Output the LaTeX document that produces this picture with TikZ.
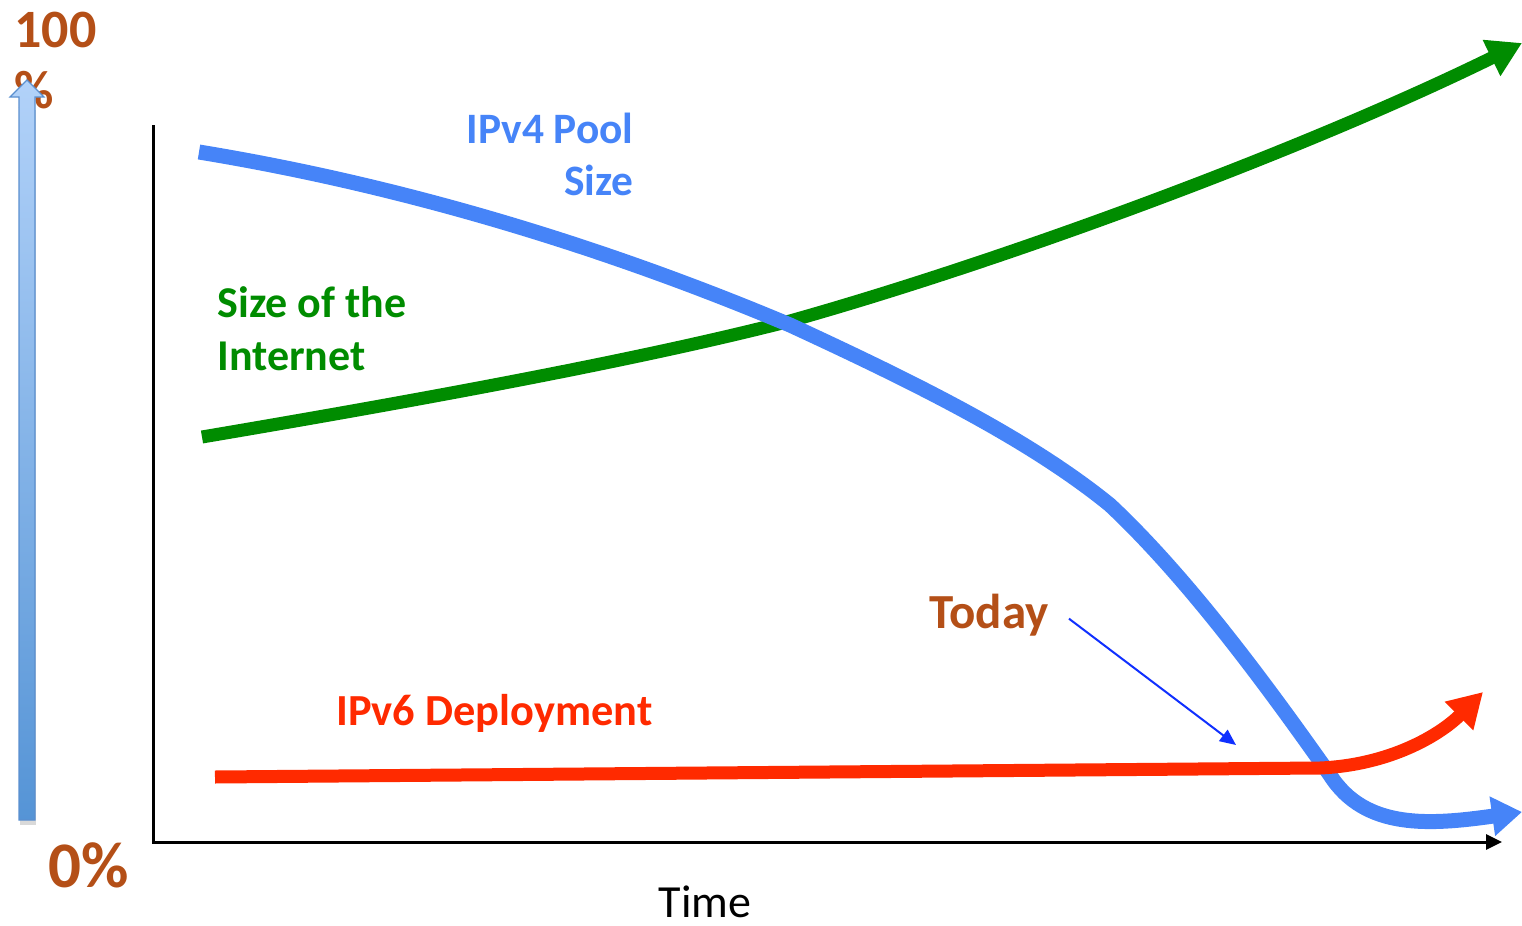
\documentclass[tikz,border=0pt]{standalone}
\usepackage{fontspec}
\setmainfont{Carlito}
\usetikzlibrary{arrows.meta}
\definecolor{poolblue}{HTML}{4684F8}
\definecolor{netgreen}{HTML}{008C00}
\definecolor{vsixred}{HTML}{FF2A00}
\definecolor{rust}{HTML}{B44F17}
\definecolor{pointer}{HTML}{1030FF}
\definecolor{scaletop}{HTML}{B2D2F9}
\definecolor{scalebot}{HTML}{5594D6}
\definecolor{scaleedge}{HTML}{5A8FCF}
\tikzset{
  lbl/.style={inner sep=0pt, font=\bfseries\fontsize{22}{26}\selectfont},
  trend/.style={line cap=butt, line join=round},
}
\begin{document}
\begin{tikzpicture}[x=0.5pt,y=-0.5pt]
\useasboundingbox (0,0) rectangle (1522,926);

% percentage scale labels
\node[lbl, font=\bfseries\fontsize{27}{32}\selectfont, text=rust, anchor=base west] (hundred) at (14,47) {100};
\node[lbl, font=\bfseries\fontsize{27}{32}\selectfont, text=rust, anchor=base west] (pct) at (14,108) {\%};
\node[lbl, font=\bfseries\fontsize{32.5}{38}\selectfont, text=rust, anchor=base west] (zero) at (48,887) {0\%};

% shaded scale arrow on the left
\fill[black!15] (20,110) rectangle (36,825);
\shade[top color=scaletop, bottom color=scalebot, draw=scaleedge, line width=0.6pt]
  (19,820) -- (19,97) -- (10,97) -- (27,80) -- (44,97) -- (35,97) -- (35,820) -- cycle;

% axes
\draw[line width=1.5pt] (153,125) -- (153,842);
\draw[line width=1.5pt, -{Triangle[length=8pt,width=7.5pt]}] (152.3,842) -- (1502,842);
\node[inner sep=0pt, font=\fontsize{23}{27}\selectfont, anchor=base] (time) at (705,917) {Time};

% size of the internet
\draw[trend, netgreen, line width=6.5pt, -{Triangle[length=17pt,width=19pt]}]
  (202,437) .. controls (450,395) and (650,357) .. (790,321)
            .. controls (1000,262) and (1300,152) .. (1522,43);

% IPv4 pool size
\draw[trend, poolblue, line width=7.5pt, -{Triangle[length=15pt,width=19pt]}]
  (199,152) .. controls (400,185) and (600,245) .. (790,325)
            .. controls (920,385) and (1030,440) .. (1110,505)
            .. controls (1190,580) and (1270,690) .. (1330,775)
            .. controls (1365,830) and (1430,825) .. (1522,812);

% IPv6 deployment
\draw[trend, vsixred, line width=6.5pt, -{Triangle[length=17pt,width=19pt]}]
  (215,777) -- (1320,768) .. controls (1390,765) and (1440,735) .. (1483,692);

% labels
\node[lbl, font=\bfseries\fontsize{21.7}{26}\selectfont, text=poolblue, anchor=base east] (pool1) at (634,143) {IPv4 Pool};
\node[lbl, font=\bfseries\fontsize{21.7}{26}\selectfont, text=poolblue, anchor=base east] (pool2) at (634,195) {Size};
\node[lbl, text=netgreen, anchor=base west] (net1) at (217,317) {Size of the};
\node[lbl, text=netgreen, anchor=base west] (net2) at (217,370) {Internet};
\node[lbl, font=\bfseries\fontsize{22.2}{26}\selectfont, text=vsixred, anchor=base west] (vsix) at (336,725) {IPv6 Deployment};
\node[lbl, font=\bfseries\fontsize{24.5}{29}\selectfont, text=rust, anchor=base west] (today) at (929,628) {Today};

% pointer from "Today"
\coordinate (now) at (1236,745);
\draw[pointer, line width=1pt, -{Triangle[length=8pt,width=7pt]}] ([xshift=10pt,yshift=-2pt]today.east) -- (now);
\end{tikzpicture}
\end{document}
